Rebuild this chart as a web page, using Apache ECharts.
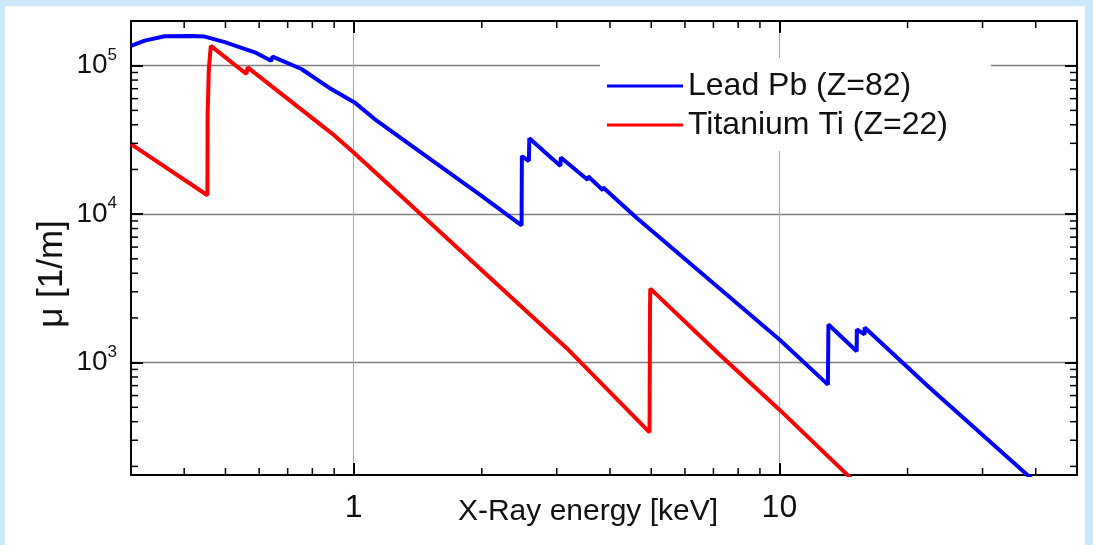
<!DOCTYPE html>
<html><head><meta charset="utf-8">
<script src="https://cdn.jsdelivr.net/npm/echarts@6/dist/echarts.min.js"></script>
<style>
html,body{margin:0;padding:0;background:#cce8fb;width:1093px;height:545px;overflow:hidden}
#c{position:absolute;left:5px;top:6px;width:1080px;height:539px;background:#fff}
</style></head><body><div id="c"></div>
<script>
const X_MIN = 0.3, X_MAX = 50, Y_MIN = 175, Y_MAX = 2e5;
const seriesNames = ['Lead Pb (Z=82)', 'Titanium Ti (Z=22)'];
const xAxisTitle = 'X-Ray energy [keV]';
const yAxisTitle = '\u03bc [1/m]';

// Lead (Pb)
const pbEnergy = [0.30, 0.323, 0.36, 0.416, 0.447, 0.498, 0.586, 0.640, 0.645, 0.754, 0.886, 1.005, 1.12, 1.508, 1.975,
  2.48, 2.484, 2.58, 2.586, 3.06, 3.066, 3.55, 3.554, 3.85, 3.851, 4.61, 10, 13.0, 13.035, 15.19, 15.2, 15.85, 15.861, 22.5, 40];
const pbMu = [1.36e5, 1.475e5, 1.58e5, 1.585e5, 1.57e5, 1.44e5, 1.23e5, 1.08e5, 1.15e5, 9.5e4, 6.96e4, 5.66e4, 4.37e4, 2.37e4, 1.36e4,
  8.4e3, 2.46e4, 2.28e4, 3.24e4, 2.11e4, 2.41e4, 1.70e4, 1.80e4, 1.45e4, 1.52e4, 9.48e3, 1.43e3, 711, 1807, 1194, 1672, 1550, 1725, 679, 156];

// Titanium (Ti)
const tiEnergy = [0.30, 0.4535, 0.454, 0.457, 0.462, 0.560, 0.5637, 0.893, 1.0, 3.157, 4.955, 4.966, 4.975, 7.23, 10, 15];
const tiMu = [2.96e4, 1.34e4, 4.7e4, 9.5e4, 1.36e5, 8.79e4, 9.75e4, 3.46e4, 2.6e4, 1260, 339, 2280, 3150, 1135, 482, 158];

const xMinorTicks = [0.4, 0.5, 0.6, 0.7, 0.8, 0.9, 2, 3, 4, 5, 6, 7, 8, 9, 20, 30, 40];
const yMinorTicks = [200, 300, 400, 500, 600, 700, 800, 900, 2000, 3000, 4000, 5000, 6000, 7000, 8000, 9000,
  20000, 30000, 40000, 50000, 60000, 70000, 80000, 90000];

const FONT = 'Liberation Sans, Arial, Helvetica, sans-serif';
const TXT = '#111';

const pbData = pbEnergy.map((e, i) => [e, pbMu[i]]);
const tiData = tiEnergy.map((e, i) => [e, tiMu[i]]);
const minorData = xMinorTicks.map(v => [v, Y_MIN, 0]).concat(yMinorTicks.map(v => [X_MIN, v, 1]));

function isDecade(v) { const l = Math.log10(v); return Math.abs(l - Math.round(l)) < 1e-6; }

const frameAxis = {
  type: 'log', logBase: 10,
  axisLine: { show: true, lineStyle: { color: '#000', width: 2 } },
  axisTick: { show: true, inside: true, length: 12, lineStyle: { color: '#000', width: 2 } },
};

const chart = echarts.init(document.getElementById('c'), null, { renderer: 'canvas' });
chart.setOption({
  animation: false,
  backgroundColor: '#fff',
  grid: { left: 126, top: 15, right: 8, bottom: 70, containLabel: false, outerBoundsMode: 'none' },
  legend: {
    data: seriesNames, orient: 'vertical', left: 595, top: 52,
    padding: [12, 43, 10, 7], itemWidth: 76, itemHeight: 3, itemGap: 7, icon: 'rect',
    backgroundColor: '#fff', selectedMode: false,
    textStyle: { fontSize: 32, color: TXT, fontFamily: FONT }
  },
  xAxis: [
    Object.assign({}, frameAxis, {
      position: 'bottom', min: X_MIN, max: X_MAX,
      axisLabel: { fontSize: 32, color: TXT, fontFamily: FONT, margin: 17, showMinLabel: false, showMaxLabel: false,
        formatter: v => isDecade(v) ? String(Math.round(v)) : '' },
      splitLine: { show: true, showMinLine: false, showMaxLine: false, lineStyle: { color: '#a8a8a8', width: 1 } },
      name: xAxisTitle, nameLocation: 'middle', nameGap: 22, nameMoveOverlap: false,
      nameTextStyle: { fontSize: 30, color: TXT, fontFamily: FONT, padding: [0, 32, 0, 0] }
    }),
    Object.assign({}, frameAxis, {
      position: 'top', min: X_MIN, max: X_MAX,
      axisLabel: { show: false }, splitLine: { show: false }
    })
  ],
  yAxis: [
    Object.assign({}, frameAxis, {
      position: 'left', min: Y_MIN, max: Y_MAX,
      axisLabel: { margin: 14, showMinLabel: false, showMaxLabel: false,
        formatter: v => isDecade(v) ? '{b|10}{s|' + Math.round(Math.log10(v)) + '}' : '',
        rich: {
          b: { fontSize: 28, color: TXT, fontFamily: FONT, lineHeight: 38 },
          s: { fontSize: 17, color: TXT, fontFamily: FONT, lineHeight: 17, verticalAlign: 'top' }
        } },
      splitLine: { show: true, showMinLine: false, showMaxLine: false, lineStyle: { color: '#808080', width: 1.3 } },
      name: yAxisTitle, nameLocation: 'middle', nameRotate: 90, nameGap: 61, nameMoveOverlap: false,
      nameTextStyle: { fontSize: 35, color: TXT, fontFamily: FONT, padding: [0, 52, 0, 0] }
    }),
    Object.assign({}, frameAxis, {
      position: 'right', min: Y_MIN, max: Y_MAX,
      axisLabel: { show: false }, splitLine: { show: false }
    })
  ],
  series: [
    {
      name: seriesNames[0], type: 'line', data: pbData, symbol: 'none', smooth: false,
      xAxisIndex: 0, yAxisIndex: 0, z: 3,
      lineStyle: { color: '#0000ff', width: 4 }, itemStyle: { color: '#0000ff' }
    },
    {
      name: seriesNames[1], type: 'line', data: tiData, symbol: 'none', smooth: false,
      xAxisIndex: 0, yAxisIndex: 0, z: 3,
      lineStyle: { color: '#ff0000', width: 4 }, itemStyle: { color: '#ff0000' }
    },
    {
      name: 'minor ticks', type: 'custom', silent: true, z: 6, xAxisIndex: 0, yAxisIndex: 0,
      data: minorData, encode: { x: 0, y: 1 },
      renderItem: function (params, api) {
        const kind = api.value(2), L = 7;
        const st = { stroke: '#000', lineWidth: 1.5 };
        if (kind === 0) {
          const v = api.value(0);
          const b = api.coord([v, Y_MIN]), t = api.coord([v, Y_MAX]);
          return { type: 'group', children: [
            { type: 'line', shape: { x1: b[0], y1: b[1], x2: b[0], y2: b[1] - L }, style: st },
            { type: 'line', shape: { x1: t[0], y1: t[1], x2: t[0], y2: t[1] + L }, style: st }
          ] };
        } else {
          const v = api.value(1);
          const l = api.coord([X_MIN, v]), r = api.coord([X_MAX, v]);
          return { type: 'group', children: [
            { type: 'line', shape: { x1: l[0], y1: l[1], x2: l[0] + L, y2: l[1] }, style: st },
            { type: 'line', shape: { x1: r[0], y1: r[1], x2: r[0] - L, y2: r[1] }, style: st }
          ] };
        }
      }
    }
  ]
});
</script></body></html>
